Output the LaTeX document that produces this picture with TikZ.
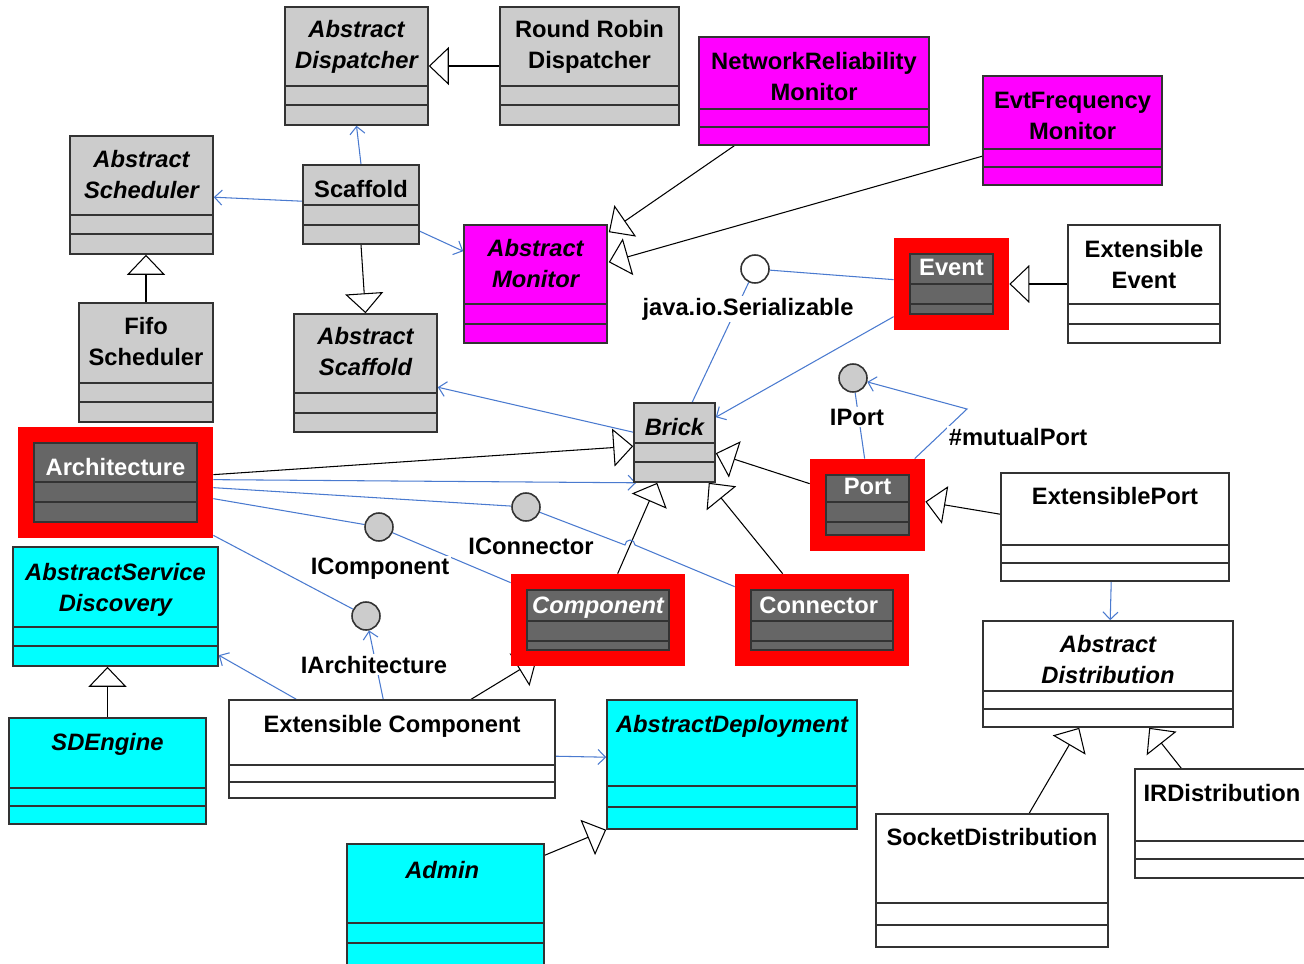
\documentclass[tikz,border=0pt]{standalone}
\usepackage{fontspec}
\setmainfont{Liberation Sans}
\usetikzlibrary{arrows.meta,positioning,calc,fit}
\definecolor{umlGray}{HTML}{CCCCCC}
\definecolor{umlMagenta}{HTML}{FF00FF}
\definecolor{umlCyan}{HTML}{00FFFF}
\definecolor{umlDark}{HTML}{666666}
\definecolor{umlRed}{HTML}{FF0000}
\definecolor{umlBlue}{HTML}{4A7ACF}
\pgfdeclarelayer{background}
\pgfsetlayers{background,main}

\begin{document}
\begin{tikzpicture}[x=0.02cm, y=-0.02cm,
    every node/.style={align=center},
    umlBox/.style={draw=black!80, line width=0.9pt, inner sep=0pt},
    grayCls/.style={umlBox, fill=umlGray},
    monCls/.style={umlBox, fill=umlMagenta},
    plainCls/.style={umlBox, fill=white},
    sdCls/.style={umlBox, fill=umlCyan},
    darkCls/.style={umlBox, fill=umlDark},
    redFrame/.style={fill=umlRed, inner sep=0pt},
    clsName/.style={font=\fontsize{13.5}{17.5}\selectfont\bfseries, inner sep=0pt, anchor=north},
    absName/.style={clsName, font=\fontsize{13.5}{17.5}\selectfont\bfseries\itshape},
    ifc/.style={circle, draw=black!80, fill=umlGray, line width=0.9pt, minimum size=0.56cm, inner sep=0pt},
    ifcLabel/.style={font=\fontsize{13.5}{17.5}\selectfont\bfseries, fill=white, inner sep=1pt, anchor=base},
    gen/.style={draw=black, line width=0.6pt, -{Triangle[open, length=0.4cm, width=0.76cm]}},
    assoc/.style={draw=umlBlue, line width=0.6pt, -{Straight Barb[length=0.15cm, width=0.3cm]}},
    link/.style={draw=umlBlue, line width=0.6pt}
  ]
  \useasboundingbox (0,0) rectangle (1304,963);

  % Classes: name/corners/compartments/fill/font/text top/text
  \foreach \n/\xa/\ya/\xb/\yb/\la/\lb/\st/\fn/\ty/\txt in {
      absDisp/285/7/428/125/86/105/grayCls/absName/20/{Abstract\\Dispatcher},
      rrDisp/500/7/679/125/86/105/grayCls/clsName/20/{Round Robin\\Dispatcher},
      absSched/70/136/213/254/215/234/grayCls/absName/150/{Abstract\\Scheduler},
      scaffold/303/165/419/244/205/225/grayCls/clsName/180/Scaffold,
      fifoSched/79/303/213/422/383/402/grayCls/clsName/317/{Fifo\\Scheduler},
      absScaf/294/314/437/432/393/413/grayCls/absName/327/{Abstract\\Scaffold},
      brick/634/403/715/482/443/462/grayCls/absName/418/Brick,
      netMon/699/37/929/145/109/127/monCls/clsName/52/{NetworkReliability\\Monitor},
      evtMon/983/76/1162/185/149/167/monCls/clsName/92/{EvtFrequency\\Monitor},
      absMon/464/225/607/343/304/324/monCls/absName/239/{Abstract\\Monitor},
      extEvent/1068/225/1220/343/304/324/plainCls/clsName/240/{Extensible\\Event},
      extPort/1001/473/1229/581/545/563/plainCls/clsName/487/ExtensiblePort,
      absDist/983/621/1233/727/691/709/plainCls/absName/635/{Abstract\\Distribution},
      extComp/229/700/555/798/765/782/plainCls/clsName/715/Extensible Component,
      irDist/1135/769/1309/878/841/859/plainCls/clsName/784/IRDistribution,
      socketDist/876/814/1108/947/903/925/plainCls/clsName/828/SocketDistribution,
      absSD/13/547/218/666/627/646/sdCls/absName/563/{AbstractService\\Discovery},
      sdEngine/9/718/206/824/788/806/sdCls/absName/733/SDEngine,
      absDep/607/700/857/829/786/807/sdCls/absName/715/AbstractDeployment,
      admin/347/844/544/975/923/943/sdCls/absName/861/Admin
    }{
      \node[\st, fit={(\xa,\ya) (\xb,\yb)}] (\n) {};
      \draw[umlBox] (\xa,\la) -- (\xb,\la) (\xa,\lb) -- (\xb,\lb);
      \node[\fn] (\n-txt) at ({(\xa+\xb)/2},\ty) {\txt};
    }

  % Core classes in red frames
  \foreach \n/\xa/\ya/\xb/\yb/\la/\lb/\fn/\ty/\txt in {
      arch/18/427/213/538/482/502/clsName/458/Architecture,
      event/894/238/1009/330/284/304/clsName/259/Event,
      port/810/459/925/551/502/522/clsName/478/Port,
      comp/511/574/685/666/621/641/absName/597/Component,
      conn/735/574/909/666/621/641/clsName/597/Connector
    }{
      \node[redFrame, fit={(\xa,\ya) (\xb,\yb)}] (\n) {};
      \node[darkCls, fit={(\xa+16,\ya+16) (\xb-16,\yb-16)}] (\n-in) {};
      \draw[umlBox] (\xa+16,\la) -- (\xb-16,\la) (\xa+16,\lb) -- (\xb-16,\lb);
      \node[\fn, text=white] (\n-txt) at ({(\xa+\xb)/2},\ty) {\txt};
    }

  % Interfaces
  \node[ifc, fill=white] (serial) at (755,269) {};
  \node[ifc] (iPort) at (853,378) {};
  \node[ifc] (iConn) at (526,507) {};
  \node[ifc] (iComp) at (379,527) {};
  \node[ifc] (iArch) at (366,616) {};
  \coordinate (mutualBend) at (967,409);
  \coordinate (connJump) at (625,545);

  \begin{pgfonlayer}{background}
    % Generalizations
    \draw[gen] (rrDisp.west) -- (absDisp.east);
    \draw[gen] (fifoSched.north) -- (fifoSched.north |- absSched.south);
    \draw[gen] (scaffold.south) -- (absScaf.north);
    \draw[gen] ($(netMon.south west)+(36,0)$) -- ($(absMon.north east)+(1,8)$);
    \draw[gen] ($(evtMon.north west)+(0,81)$) -- ($(absMon.north east)+(1,38)$);
    \draw[gen] (extEvent.west) -- (event.east);
    \draw[gen] ($(arch.north east)+(0,48)$) -- ($(brick.north west)+(0,44)$);
    \draw[gen] ($(port.north west)+(0,25)$) -- ($(brick.north east)+(0,51)$);
    \draw[gen] ($(comp.north west)+(107,0)$) -- ($(brick.south west)+(24,0)$);
    \draw[gen] ($(conn.north west)+(48,0)$) -- ($(brick.south east)+(-7,0)$);
    \draw[gen] ($(extPort.north west)+(0,42)$) -- ($(port.north east)+(0,43)$);
    \draw[gen] ($(extComp.north west)+(243,0)$) -- ($(comp.south west)+(26,-7)$);
    \draw[gen] ($(admin.north east)+(0,12)$) -- (absDep.south west);
    \draw[gen] (sdEngine.north) -- (sdEngine.north |- absSD.south);
    \draw[gen] ($(socketDist.north west)+(154,0)$) -- ($(absDist.south west)+(97,0)$);
    \draw[gen] ($(irDist.north west)+(47,0)$) -- ($(absDist.south west)+(167,0)$);
    % Associations and realizations
    \draw[assoc] (scaffold.north) -- (absDisp.south);
    \draw[assoc] ($(scaffold.north west)+(0,37)$) -- ($(absSched.north east)+(0,62)$);
    \draw[assoc] ($(scaffold.north east)+(0,67)$) -- ($(absMon.north west)+(0,27)$);
    \draw[link] (serial) -- ($(event.north west)+(0,42)$);
    \draw[link] (serial) -- ($(brick.north west)+(59,0)$);
    \draw[assoc] ($(event.north west)+(0,79)$) -- ($(brick.north east)+(0,15)$);
    \draw[assoc] ($(brick.north west)+(0,30)$) -- ($(absScaf.north east)+(0,74)$);
    \draw[assoc] ($(arch.north east)+(0,53)$) -- ($(brick.south west)+(3,0)$);
    \draw[link] ($(arch.north east)+(0,61)$) -- (iConn);
    \draw[link] (iConn) -- (connJump) arc[start angle=180, end angle=0, radius=0.1cm] -- ($(conn.north west)+(0,13)$);
    \draw[link] ($(arch.north east)+(0,72)$) -- (iComp);
    \draw[link] (iComp) -- ($(comp.north west)+(0,9)$);
    \draw[link] ($(arch.south east)+(0,-3)$) -- (iArch);
    \draw[assoc] ($(extComp.north west)+(155,0)$) -- (iArch);
    \draw[assoc] ($(extComp.north west)+(68,0)$) -- ($(absSD.north east)+(0,109)$);
    \draw[assoc] ($(extComp.north east)+(0,57)$) -- ($(absDep.north west)+(0,58)$);
    \draw[link] ($(port.north west)+(55,0)$) -- (iPort);
    \draw[assoc] ($(port.north west)+(105,0)$) -- (mutualBend) -- (iPort);
    \draw[assoc] ($(extPort.south west)+(111,0)$) -- ($(absDist.north west)+(128,0)$);
  \end{pgfonlayer}

  % Interface labels
  \node[ifcLabel] (serialLbl) at (748,315) {java.io.Serializable};
  \node[ifcLabel] (iPortLbl) at (857,425) {IPort};
  \node[ifcLabel] (mutualLbl) at (1018,445) {\#mutualPort};
  \node[ifcLabel] (iCompLbl) at (380,574) {IComponent};
  \node[ifcLabel] (iConnLbl) at (531,554) {IConnector};
  \node[ifcLabel] (iArchLbl) at (374,673) {IArchitecture};
\end{tikzpicture}
\end{document}
